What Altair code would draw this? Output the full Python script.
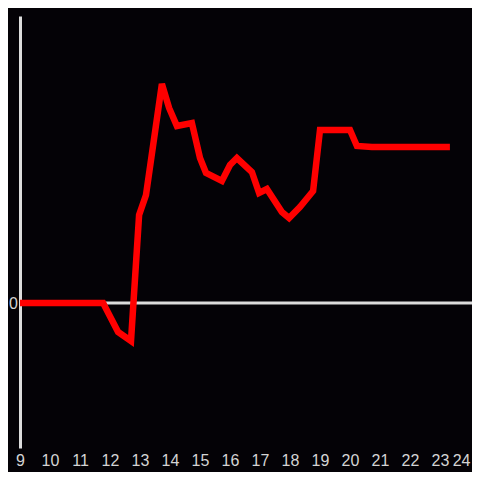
import altair as alt
import pandas as pd

hours = [9.0, 11.77, 12.27, 12.7, 12.97, 13.2, 13.73, 13.97, 14.23, 14.73, 15.0, 15.2,
         15.73, 16.0, 16.23, 16.73, 16.97, 17.23, 17.73, 17.97, 18.33, 18.77, 19.0,
         20.0, 20.23, 20.73, 23.33]
values = [0, 0, -29, -38, 88, 108, 219, 195, 177, 180, 145, 130,
          122, 138, 145, 131, 110, 114, 91, 85, 96, 112, 173,
          173, 157, 156, 156]
x_ticks = list(range(9, 25))

df = pd.DataFrame({"hour": hours, "value": values})
zero = pd.DataFrame({"value": [0]})

xscale = alt.Scale(domain=[9, 24.0667], nice=False, zero=False)
yscale = alt.Scale(domain=[-145, 287], nice=False, zero=False)

line = alt.Chart(df).mark_line(color="#ff0000", strokeWidth=6.5, clip=False).encode(
    x=alt.X("hour:Q", scale=xscale,
            axis=alt.Axis(values=x_ticks, title=None, domain=False, ticks=False, grid=False,
                          labelColor="#d4d4d4", labelFontSize=16, labelFont="Liberation Sans",
                          labelPadding=4, tickSize=0, labelFlush=False, labelOverlap=False,
                          labelAlign=alt.ExprRef("datum.value == 24 ? 'right' : 'center'"))),
    y=alt.Y("value:Q", scale=yscale,
            axis=alt.Axis(values=[0], title=None, domain=True, domainColor="#dcdcdc",
                          domainWidth=3, ticks=False, tickSize=0, grid=False,
                          labelColor="#d4d4d4", labelFontSize=16, labelFont="Liberation Sans",
                          labelPadding=2.5)),
)

rule = alt.Chart(zero).mark_rule(color="#dcdcdc", strokeWidth=3).encode(
    y=alt.Y("value:Q", scale=yscale)
)

chart = (rule + line).properties(
    width=452, height=432,
    background="#040206",
    padding={"left": 12, "top": 8, "right": 0, "bottom": 24},
    autosize=alt.AutoSizeParams(type="none"),
).configure_view(stroke=None)

chart.save("out.html", embed_options={"renderer": "svg", "actions": False})
